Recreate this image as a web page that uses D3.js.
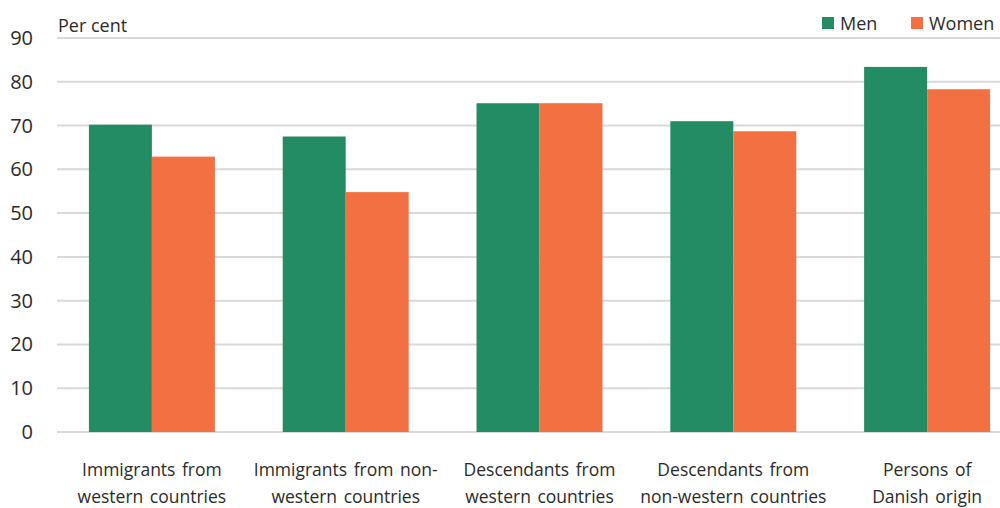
<!DOCTYPE html>
<html>
<head>
<meta charset="utf-8">
<script src="https://cdn.jsdelivr.net/npm/d3@7"></script>
<style>
  html, body { margin: 0; padding: 0; background: #fff; }
  svg { display: block; }
  text { font-family: "Open Sans", "Noto Sans", sans-serif; fill: #2b2b2b; }
</style>
</head>
<body>
<svg id="chart" width="1000" height="508"></svg>
<script>
const categories = [
  ["Immigrants from", "western countries"],
  ["Immigrants from non-", "western countries"],
  ["Descendants from", "western countries"],
  ["Descendants from", "non-western countries"],
  ["Persons of", "Danish origin"]
];
const seriesNames = ["Men", "Women"];
const men = [70.2, 67.5, 75.1, 71.0, 83.4];
const women = [62.9, 54.8, 75.1, 68.7, 78.3];
const yTicks = [0, 10, 20, 30, 40, 50, 60, 70, 80, 90];
const colors = ["#248c65", "#f37043"];

const svg = d3.select("#chart");
const gridLeft = 57, gridRight = 1000;

const y = d3.scaleLinear().domain([0, 90]).range([432, 38]);
const x0 = d3.scaleBand().domain(d3.range(categories.length))
  .range([55, 1024]).paddingInner(0.35).paddingOuter(0.175);
const x1 = d3.scaleBand().domain(seriesNames).range([0, x0.bandwidth()]);

// gridlines
svg.append("g").selectAll("line").data(yTicks).join("line")
  .attr("x1", gridLeft).attr("x2", gridRight)
  .attr("y1", d => y(d)).attr("y2", d => y(d))
  .attr("stroke", "#d9d9d9").attr("stroke-width", 2);

// y tick labels
svg.append("g").selectAll("text").data(yTicks).join("text")
  .attr("x", 33).attr("y", d => y(d) + 7)
  .attr("text-anchor", "end").attr("font-size", 20)
  .text(d => d);

// unit label
svg.append("text").attr("x", 58).attr("y", 32).attr("font-size", 18).text("Per cent");

// bars
const data = categories.map((c, i) => ({ i, vals: [men[i], women[i]] }));
const groups = svg.append("g").selectAll("g").data(data).join("g")
  .attr("transform", d => `translate(${x0(d.i)},0)`);
groups.selectAll("rect").data(d => d.vals.map((v, k) => ({ v, k })))
  .join("rect")
  .attr("x", d => x1(seriesNames[d.k]))
  .attr("width", x1.bandwidth())
  .attr("y", d => y(d.v))
  .attr("height", d => y(0) - y(d.v))
  .attr("fill", d => colors[d.k]);

// x labels
const xl = svg.append("g").selectAll("text").data(categories).join("text")
  .attr("text-anchor", "middle").attr("font-size", 17.5)
  .attr("transform", (d, i) => `translate(${x0(i) + x0.bandwidth() / 2},0)`);
xl.selectAll("tspan").data(d => d).join("tspan")
  .attr("x", 0).attr("y", (d, j) => 476 + j * 27)
  .attr("word-spacing", 2)
  .text(d => d);

// legend
const legendPos = [{ sx: 822, tx: 840 }, { sx: 911, tx: 929 }];
const lg = svg.append("g").selectAll("g").data(seriesNames).join("g");
lg.append("rect").attr("x", (d, i) => legendPos[i].sx).attr("y", 17)
  .attr("width", 12).attr("height", 12).attr("fill", (d, i) => colors[i]);
lg.append("text").attr("x", (d, i) => legendPos[i].tx).attr("y", 30)
  .attr("font-size", 18).text(d => d);
</script>
</body>
</html>
